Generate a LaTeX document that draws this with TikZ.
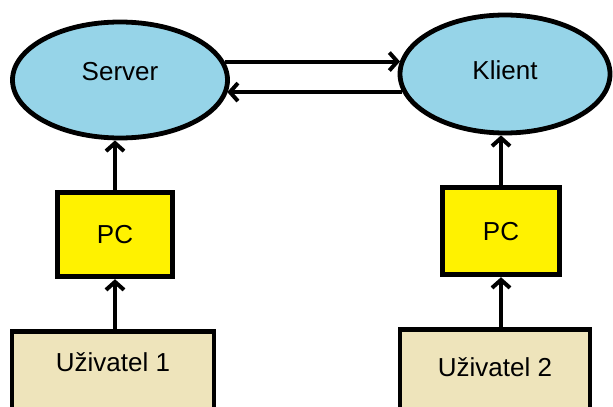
\documentclass[tikz,border=0pt]{standalone}
\usepackage{fontspec}
\setmainfont{Liberation Sans}
\usetikzlibrary{arrows.meta,positioning,shapes.geometric}
\definecolor{srvblue}{RGB}{150,212,232}
\definecolor{usrtan}{RGB}{238,228,187}
\begin{document}
\begin{tikzpicture}[font=\fontsize{13}{15}\selectfont, node distance=25pt,
  ell/.style={ellipse, draw=black, line width=2.4pt, fill=srvblue, inner sep=0pt},
  box/.style={draw=black, line width=2.4pt, fill=#1, align=center, inner sep=0pt},
  box/.default=white, arr/.style={-{Straight Barb[length=4pt,width=9pt]}, line width=2pt}]
\useasboundingbox (0,0) rectangle (306.5pt,-203pt);
\node[ell, minimum width=107.5pt, minimum height=58pt, text depth=9pt] (srv) at (60pt,-40pt) {Server};
\node[ell, minimum width=105pt, minimum height=59pt, text depth=4pt] (kli) at (252.5pt,-37pt) {Klient};
\node[box=yellow, minimum width=57.5pt, minimum height=42pt, below=of srv, xshift=-2.5pt] (pc1) {PC};
\node[box=yellow, minimum width=58.5pt, minimum height=43.5pt, below=of kli, xshift=-2pt] (pc2) {PC};
\node[box=usrtan, minimum width=101pt, minimum height=45pt, text depth=15pt, below=of pc1, xshift=-1pt] (usr1) {Uživatel 1};
\node[box=usrtan, minimum width=95pt, minimum height=45pt, text depth=8pt, below=of pc2, xshift=-3pt] (usr2) {Uživatel 2};
\draw[arr] (srv.10) -- (srv.10 -| kli.173);
\draw[arr] (kli.190) -- (kli.190 -| srv.-7);
\draw[arr] (pc1.north) -- (pc1.north |- srv.south);
\draw[arr] (pc2.north) -- (pc2.north |- kli.south);
\draw[arr] (usr1.north -| pc1.south) -- (pc1.south);
\draw[arr] (usr2.north -| pc2.south) -- (pc2.south);
\end{tikzpicture}
\end{document}
